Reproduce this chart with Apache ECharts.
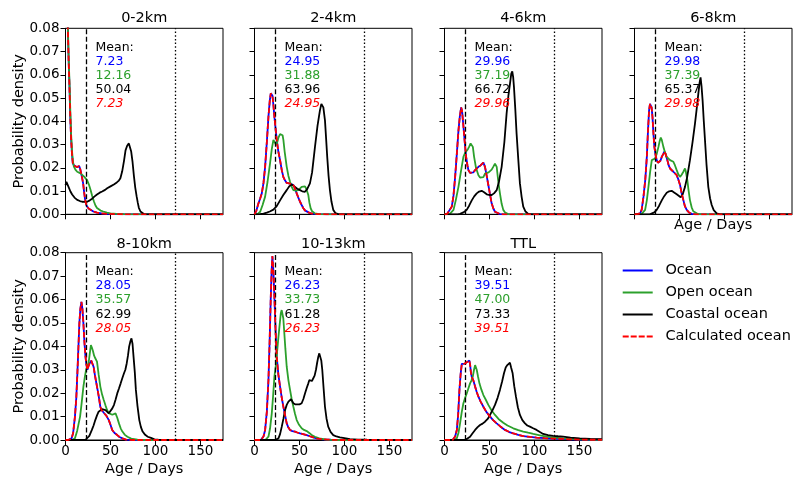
<!DOCTYPE html>
<html><head><meta charset="utf-8">
<script src="https://cdn.jsdelivr.net/npm/echarts@6/dist/echarts.min.js"></script>
<style>html,body{margin:0;padding:0;background:#fff}#c{width:797px;height:479px}</style>
</head><body><div id="c"></div>
<script>
// ---------------- DATA ----------------
const panelTitles = ['0-2km', '2-4km', '4-6km', '6-8km', '8-10km', '10-13km', 'TTL'];
const seriesNames = ['Ocean', 'Open ocean', 'Coastal ocean', 'Calculated ocean'];
const meanOcean   = [7.23, 24.95, 29.96, 29.98, 28.05, 26.23, 39.51];
const meanOpen    = [12.16, 31.88, 37.19, 37.39, 35.57, 33.73, 47.00];
const meanCoastal = [50.04, 63.96, 66.72, 65.37, 62.99, 61.28, 73.33];
const meanCalc    = [7.23, 24.95, 29.96, 29.98, 28.05, 26.23, 39.51];
const xTicks = [0, 50, 100, 150];
const dashedDay = 23.5;
const dottedDay = 122;

// 0-2km
const ocean_0_2 = [[0,0.16],[1,0.13],[2,0.1],[2.6,0.08],[3.5,0.066],[4.4,0.055],[5.3,0.042],[6.3,0.032],[7.2,0.026],[8.1,0.022],[9.5,0.021],[10.7,0.0205],[12.5,0.0203],[14.4,0.0205],[15.2,0.0207],[16.2,0.0197],[17,0.0183],[18.3,0.016],[19.6,0.0133],[20.7,0.0095],[21.8,0.0063],[23,0.0042],[24,0.0033],[26,0.0024],[27.8,0.0018],[31,0.0012],[35,0.0007],[40,0.0004],[46,0.0002],[55,0.0001],[65,0],[175,0]];
const open_0_2 = [[0,0.16],[1,0.13],[2,0.1],[2.7,0.08],[3.6,0.066],[4.5,0.056],[5.4,0.044],[6.3,0.034],[7.3,0.027],[8.2,0.023],[9.3,0.0205],[11,0.0192],[13,0.0183],[15,0.0179],[16.7,0.0176],[18.5,0.017],[20.4,0.0163],[22.2,0.0155],[24,0.0147],[26,0.0128],[27.8,0.0106],[29.6,0.008],[31.5,0.0056],[33.3,0.0038],[35,0.0027],[37,0.002],[39,0.0016],[42,0.0012],[46,0.0007],[50,0.0004],[57,0.0002],[65,0.0001],[75,0],[175,0]];
const coast_0_2 = [[0,0.0125],[1,0.014],[2,0.0135],[3.7,0.0115],[5.5,0.0098],[7.4,0.0085],[10,0.0072],[13,0.0062],[16,0.0057],[18.5,0.0054],[21,0.0053],[24,0.0054],[27,0.006],[29.6,0.0067],[32,0.0076],[35,0.0085],[38,0.0093],[40.7,0.0098],[44,0.0105],[46.3,0.0112],[50,0.012],[53.7,0.0128],[57,0.0137],[59.3,0.0145],[61,0.0155],[63,0.0185],[65,0.023],[66.7,0.0275],[68.5,0.0295],[70.4,0.0305],[71.5,0.0298],[73,0.027],[74.5,0.0225],[76,0.0165],[77.5,0.0115],[79,0.0078],[80.3,0.005],[81.5,0.0028],[83.3,0.0012],[85,0.0005],[87,0.0001],[90,0],[175,0]];
// 2-4km
const ocean_2_4 = [[0,0],[2,0.0015],[4.4,0.0047],[6.3,0.0068],[8.1,0.009],[10,0.0135],[11.8,0.0204],[13.7,0.031],[15.5,0.042],[17,0.049],[18.1,0.052],[19,0.0522],[20,0.051],[21,0.047],[22.1,0.042],[23.4,0.037],[24.7,0.032],[26.5,0.027],[28.4,0.0233],[30.3,0.019],[32.1,0.016],[34,0.0145],[35.8,0.0135],[37.7,0.0133],[39.5,0.0132],[41.3,0.0128],[43.2,0.0126],[45,0.011],[46.9,0.009],[48.7,0.0072],[50.6,0.0054],[52.4,0.004],[54.3,0.0026],[56,0.0017],[58,0.0011],[61,0.0006],[64,0.0003],[70,0.0001],[80,0],[175,0]];
const open_2_4 = [[0,0],[4,0.0003],[6.3,0.0011],[9,0.004],[11.8,0.0076],[14.5,0.014],[17.3,0.022],[19.2,0.028],[21,0.032],[22.5,0.031],[24,0.0297],[25.3,0.031],[26.6,0.033],[28.4,0.0345],[30.3,0.0348],[31.2,0.034],[32.1,0.032],[33.5,0.027],[35.8,0.0204],[37.7,0.0165],[39.5,0.014],[41.3,0.0118],[43.2,0.0104],[46,0.0102],[48.7,0.0104],[50.6,0.011],[52.4,0.0118],[54.3,0.0121],[56.1,0.012],[57.5,0.011],[59.8,0.0083],[61,0.005],[62.4,0.0026],[64,0.0013],[67.2,0.0004],[72,0.0001],[80,0],[175,0]];
const coast_2_4 = [[0,0],[6,0.0001],[10,0.0003],[13.7,0.0007],[17,0.0012],[21,0.002],[24.7,0.0035],[28.4,0.006],[32,0.0083],[35.8,0.0104],[38.5,0.012],[41.3,0.0128],[43,0.0125],[45,0.0118],[47.5,0.011],[50.6,0.0104],[53,0.0099],[56.1,0.0097],[58.5,0.0108],[61.6,0.0133],[64,0.018],[67.2,0.029],[70,0.038],[72.7,0.0447],[74.3,0.0475],[75.3,0.048],[76.5,0.046],[78.3,0.0404],[79.5,0.033],[80.8,0.0247],[82.3,0.0165],[83.8,0.0104],[85.5,0.0055],[87.5,0.0019],[90,0.0005],[93,0.0001],[96,0],[175,0]];
// 4-6km
const ocean_4_6 = [[0,0],[3,0.0002],[5,0.0008],[8.1,0.0033],[10,0.008],[11.8,0.016],[13.7,0.026],[15.5,0.036],[17,0.042],[18.5,0.046],[19.5,0.0445],[21,0.038],[22.5,0.031],[24,0.0247],[25.5,0.021],[26.6,0.019],[28.4,0.0178],[30.3,0.0175],[32,0.018],[34,0.019],[36,0.0198],[37.7,0.0204],[40,0.021],[42,0.0215],[43.2,0.0222],[44,0.022],[45,0.0204],[46.9,0.0165],[48.7,0.0126],[50.6,0.0085],[52.4,0.0047],[54.3,0.0025],[56.1,0.0011],[58,0.0005],[61.6,0.0001],[65,0],[175,0]];
const open_4_6 = [[0,0],[6,0.0002],[8,0.0008],[10,0.0019],[12.5,0.006],[15.5,0.0118],[18.5,0.019],[21,0.0247],[23,0.0265],[24.7,0.027],[26,0.028],[27.3,0.029],[29,0.0305],[30.3,0.031],[31.5,0.029],[32.9,0.0247],[35,0.02],[37.7,0.0168],[39.5,0.0158],[41.3,0.0154],[43.2,0.016],[45,0.0175],[47,0.0178],[49,0.018],[50.6,0.0183],[52.4,0.0192],[54.3,0.0205],[56.1,0.0218],[57,0.0215],[58,0.0204],[59.8,0.014],[61.6,0.009],[63.5,0.0045],[65.3,0.0019],[67.5,0.0007],[70.9,0.0001],[75,0],[175,0]];
const coast_4_6 = [[0,0],[15,0],[17.3,0.0002],[21,0.0008],[24.7,0.0019],[27.5,0.0038],[30.3,0.006],[33,0.0077],[35.8,0.009],[38.5,0.0098],[41.3,0.0101],[44,0.0095],[46.9,0.0086],[49.5,0.0083],[52.4,0.0083],[55,0.009],[58,0.0104],[60.5,0.014],[63.5,0.0204],[66.5,0.031],[69,0.0433],[71,0.051],[72.7,0.056],[74.2,0.0605],[75.3,0.0615],[76.3,0.059],[77.2,0.0547],[78.7,0.045],[80.1,0.0347],[82,0.0235],[83.8,0.0133],[85.7,0.0075],[87.5,0.0033],[90,0.0012],[93,0.0002],[97,0],[175,0]];
// 6-8km
const ocean_6_8 = [[0,0],[4,0.0002],[6.3,0.0004],[8,0.002],[10,0.0076],[12,0.015],[13.7,0.0247],[15,0.036],[16.2,0.0447],[17.2,0.0475],[18.1,0.048],[19,0.046],[20,0.0418],[21,0.035],[22.1,0.029],[23.4,0.0255],[24.7,0.0233],[26,0.0222],[27.3,0.0218],[28.8,0.023],[30.3,0.0247],[32,0.026],[33.3,0.027],[34.5,0.026],[36.5,0.0233],[38,0.021],[39.5,0.0197],[41.3,0.019],[43.2,0.0183],[45,0.0175],[46.9,0.0168],[48.7,0.015],[50.6,0.0126],[52.4,0.009],[54.3,0.0061],[56,0.0035],[58,0.0019],[60.5,0.0008],[63.5,0.0002],[68,0],[175,0]];
const open_6_8 = [[0,0],[8,0.0002],[10,0.0008],[11.8,0.0019],[13.7,0.006],[15.5,0.0118],[17.3,0.018],[19.2,0.0233],[21,0.024],[22.9,0.024],[24.7,0.026],[26.6,0.029],[28,0.0315],[29.2,0.033],[30.3,0.032],[32.1,0.029],[34,0.0265],[35.8,0.0247],[37.7,0.024],[39.5,0.0233],[41.3,0.0228],[43.2,0.0226],[45,0.021],[46.9,0.019],[48.7,0.0172],[50.6,0.0161],[52.4,0.017],[54.3,0.0183],[56.1,0.0197],[57,0.0185],[58.7,0.0147],[60,0.0105],[61.6,0.0061],[63.5,0.003],[65.3,0.0013],[67.2,0.0006],[70,0.0002],[75,0],[175,0]];
const coast_6_8 = [[0,0],[17,0],[19.2,0.0002],[22,0.0008],[24.7,0.0019],[27.5,0.0038],[30.3,0.006],[33,0.0078],[35.8,0.0093],[38.5,0.0099],[41.3,0.0101],[44,0.0094],[46.9,0.0086],[49,0.0078],[51.3,0.0073],[53.5,0.0085],[56.1,0.0118],[58.5,0.016],[61.6,0.0233],[64.5,0.031],[67.2,0.039],[69,0.045],[70.9,0.0518],[72.3,0.0565],[73.4,0.0589],[74.5,0.055],[75.7,0.0488],[77,0.04],[78.3,0.032],[80,0.0215],[82,0.0118],[84,0.0068],[85.8,0.004],[88,0.0018],[91.3,0.0004],[95,0],[175,0]];
// 8-10km
const ocean_8_10 = [[0,0],[3,0],[5,0.0003],[6.8,0.0007],[8.5,0.003],[10.5,0.01],[12,0.018],[13.2,0.0285],[14.3,0.039],[15.4,0.0498],[16.5,0.056],[17.7,0.059],[18.8,0.056],[19.9,0.0498],[21,0.042],[22.2,0.0356],[23.3,0.032],[24.4,0.03],[25.5,0.0315],[26.7,0.0327],[28.6,0.0339],[29.5,0.0335],[31.2,0.0313],[33,0.027],[35,0.0228],[37,0.0185],[38.7,0.0142],[40,0.0128],[41.7,0.0121],[43.5,0.0112],[45.5,0.0103],[48.1,0.0085],[50,0.0065],[51.9,0.0043],[54.5,0.003],[57.5,0.0021],[60,0.0013],[63.2,0.0007],[67,0.0002],[75,0],[175,0]];
const open_8_10 = [[0,0],[8,0.0001],[10.5,0.0007],[13,0.004],[16.2,0.01],[18,0.016],[19.9,0.0228],[21.5,0.027],[22.9,0.03],[24.3,0.0315],[25.6,0.0327],[27,0.037],[28.2,0.0405],[29.3,0.0395],[30.5,0.038],[31.8,0.036],[33.1,0.0349],[35,0.0335],[36.8,0.028],[38.7,0.0228],[40.6,0.0195],[42.5,0.0171],[44.4,0.0148],[46.2,0.0128],[48,0.0115],[50,0.0107],[52,0.0108],[54,0.0112],[55.6,0.0114],[57.5,0.0095],[59.4,0.0071],[61.3,0.005],[63.2,0.0036],[66,0.0022],[68.8,0.0014],[73,0.0006],[80,0.0002],[90,0],[175,0]];
const coast_8_10 = [[0,0],[22,0],[23.7,0.0002],[26.5,0.0018],[29.3,0.0043],[31.2,0.0062],[33.1,0.0085],[35,0.0105],[36.8,0.0121],[38.7,0.0128],[40.6,0.0132],[42.5,0.0131],[44.4,0.0128],[46.3,0.0121],[48.1,0.0114],[50,0.012],[52,0.0135],[53.8,0.0149],[55.6,0.0172],[57.5,0.0199],[59.4,0.022],[61.3,0.0242],[63.2,0.0265],[65,0.0285],[66.5,0.03],[68,0.0327],[69.4,0.036],[70.7,0.0399],[72,0.042],[73.3,0.0434],[74.5,0.041],[75.6,0.0356],[77,0.029],[78.2,0.0214],[80,0.0145],[82,0.0085],[83.8,0.0055],[85.7,0.0036],[88.5,0.0022],[91.4,0.0014],[95,0.0009],[98.9,0.0003],[103,0.0001],[110,0],[175,0]];
// 10-13km
const ocean_10_13 = [[0,0],[7,0],[8.1,0.0002],[10,0.0015],[11.8,0.0043],[13.7,0.012],[15.5,0.0256],[16.8,0.042],[18.1,0.0612],[19,0.072],[19.9,0.0786],[21,0.072],[22.1,0.0612],[23.4,0.047],[24.7,0.0356],[26.5,0.028],[28.4,0.0228],[30.3,0.018],[32.1,0.0142],[34,0.0105],[35.8,0.0071],[37.7,0.0053],[39.5,0.0043],[42,0.0038],[45,0.0036],[47.5,0.0032],[50.6,0.0028],[54,0.0025],[58,0.0021],[61.5,0.0016],[65.3,0.0011],[70,0.0006],[76,0.0003],[85,0.0001],[95,0],[175,0]];
const open_10_13 = [[0,0],[12,0],[13.5,0.0002],[15.5,0.0014],[17.3,0.005],[19.2,0.0114],[20.7,0.019],[22.1,0.027],[24,0.0327],[25.3,0.0385],[26.6,0.044],[28,0.0495],[29.2,0.054],[30.2,0.0555],[31,0.0562],[32,0.052],[32.9,0.047],[34.3,0.039],[35.8,0.0313],[37.7,0.0255],[39.5,0.0214],[41.3,0.0175],[43.2,0.0142],[45,0.0112],[46.9,0.0085],[49.5,0.0065],[52.4,0.005],[55,0.0043],[58,0.0038],[60,0.0033],[61.6,0.0028],[64,0.002],[67.2,0.0014],[72,0.0007],[80,0.0002],[90,0],[175,0]];
const coast_10_13 = [[0,0],[22.9,0],[24.5,0.0002],[26.6,0.0007],[28.4,0.0025],[30.3,0.0057],[32.1,0.009],[34,0.0128],[35.8,0.015],[37.7,0.0164],[39.2,0.0172],[40.6,0.0174],[41.9,0.0168],[43.2,0.0157],[45.5,0.0152],[47.6,0.015],[50,0.0152],[52.4,0.0157],[54.3,0.0175],[56.1,0.0199],[58,0.0222],[59.8,0.0242],[61,0.0256],[62.4,0.0258],[63.8,0.0252],[65.3,0.0256],[66.8,0.0275],[68.3,0.03],[69.6,0.033],[70.9,0.0356],[72,0.037],[73.1,0.0373],[74.2,0.034],[75.3,0.03],[76.8,0.022],[78.3,0.0142],[80,0.0092],[81.9,0.0057],[84.5,0.0035],[87.5,0.0021],[91,0.0015],[94.9,0.0011],[100,0.0008],[106,0.0004],[115,0.0002],[125,0.0001],[140,0],[175,0]];
// TTL
const ocean_ttl = [[0,0],[9,0],[10,0.0003],[11.8,0.0015],[13.7,0.0043],[15.2,0.011],[16.6,0.0214],[17.9,0.028],[19.2,0.0325],[20,0.0327],[21,0.0325],[22.3,0.0326],[23.6,0.0327],[24.7,0.0332],[25.8,0.0335],[26.8,0.034],[27.7,0.0339],[28.5,0.032],[29.3,0.029],[30.3,0.027],[32,0.0255],[34,0.0228],[35.8,0.0205],[37.7,0.0185],[40,0.0165],[43.2,0.0142],[46.5,0.012],[50.6,0.01],[54,0.0085],[58,0.0071],[62,0.0058],[67.2,0.0043],[72,0.0034],[76.4,0.0028],[82,0.0022],[87.5,0.0017],[95,0.0013],[102.3,0.001],[111,0.0008],[120.7,0.0006],[130,0.0005],[139.1,0.0003],[150,0.0002],[160,0.0001],[175,0.0001]];
const open_ttl = [[0,0],[11,0],[12,0.0002],[13.7,0.0007],[15.5,0.003],[17.3,0.0071],[19.2,0.012],[21,0.0157],[22.9,0.018],[24.7,0.0199],[26.5,0.022],[28.4,0.0242],[30,0.0255],[31.4,0.027],[32.8,0.03],[34,0.032],[34.8,0.0322],[35.8,0.03],[37.3,0.027],[38.8,0.0242],[41,0.0215],[43.2,0.0192],[45.9,0.0172],[48.7,0.015],[52,0.0128],[56.1,0.0107],[60,0.009],[65.3,0.0074],[70,0.0062],[76.4,0.005],[82,0.0042],[87.5,0.0036],[93,0.0031],[98.6,0.0026],[106,0.002],[113.4,0.0014],[122,0.001],[131.8,0.0007],[140,0.0005],[150.2,0.0003],[162,0.0002],[175,0.0001]];
const coast_ttl = [[0,0],[22,0],[23.5,0.0002],[25.5,0.0006],[28.4,0.0014],[31,0.0028],[34,0.0043],[36.8,0.0055],[39.5,0.0064],[42.3,0.007],[45,0.0078],[48,0.009],[50.6,0.0107],[53.4,0.0128],[56.1,0.015],[59,0.018],[61.6,0.0214],[64,0.025],[66.1,0.0285],[68,0.031],[69.8,0.032],[71.5,0.0328],[72.7,0.033],[74,0.031],[75.7,0.0285],[77.5,0.023],[79.4,0.0185],[81.5,0.014],[83.8,0.0107],[86.5,0.0085],[89.4,0.0071],[92,0.0062],[94.9,0.0057],[98.5,0.005],[102.3,0.0043],[106,0.0034],[109.6,0.0026],[115,0.0021],[120.7,0.0018],[126,0.0016],[131.8,0.0014],[140,0.001],[150.2,0.0007],[162,0.0005],[175,0.0004]];

const oceanData = [ocean_0_2, ocean_2_4, ocean_4_6, ocean_6_8, ocean_8_10, ocean_10_13, ocean_ttl];
const openData  = [open_0_2, open_2_4, open_4_6, open_6_8, open_8_10, open_10_13, open_ttl];
const coastData = [coast_0_2, coast_2_4, coast_4_6, coast_6_8, coast_8_10, coast_10_13, coast_ttl];

// ---------------- LAYOUT / STYLE ----------------
const FONT = 'DejaVu Sans';
const BLUE = '#0000ff', GREEN = '#2ca02c', BLACK = '#000000', RED = '#ff0000';
const colLeft = [65.5, 254.5, 444.5, 634.5];
const rowTop = [28.3, 252.7];
const rowH = [186, 187.3];
const gridW = 157.5;
const LW = 1.8;
const ICON_SOLID = 'path://M0,0h30v2h-30z';
const ICON_DASH = 'path://M0,0h6v2h-6z M8,0h6v2h-6z M16,0h6v2h-6z M24,0h6v2h-6z';
const legendColors = [BLUE, GREEN, BLACK, RED];

const option = {
  animation: false,
  backgroundColor: '#fff',
  textStyle: { fontFamily: FONT },
  grid: [], xAxis: [], yAxis: [], series: [], title: [],
  legend: {
    data: seriesNames.map((n, k) => ({ name: n, icon: k === 3 ? ICON_DASH : ICON_SOLID, itemStyle: { color: legendColors[k] } })),
    orient: 'vertical', left: 622.7, top: 263, padding: 0,
    itemWidth: 31.5, itemHeight: 2, itemGap: 7, selectedMode: false,
    textStyle: { fontSize: 14.5, color: '#000', fontFamily: FONT, padding: [0, 0, 0, 7] }
  }
};

for (let i = 0; i < panelTitles.length; i++) {
  const r = i < 4 ? 0 : 1;
  const c = i < 4 ? i : i - 4;
  const left = colLeft[c], top = rowTop[r];
  option.grid.push({ left, top, width: gridW, height: rowH[r], show: true, borderColor: '#000', borderWidth: 1, backgroundColor: 'transparent', outerBoundsMode: 'none' });
  const showXName = r === 1 || i === 3;
  option.xAxis.push({
    type: 'value', gridIndex: i, min: 0, max: 175, interval: 50,
    axisLine: { show: true, onZero: false, lineStyle: { color: '#000', width: 1 } },
    axisTick: { show: true, length: 5, customValues: xTicks, lineStyle: { color: '#000', width: 1 } },
    axisLabel: { show: r === 1, customValues: xTicks, color: '#000', fontSize: 13.5, fontFamily: FONT, margin: 4 },
    splitLine: { show: false },
    name: showXName ? 'Age / Days' : '', nameLocation: 'middle', nameGap: r === 1 ? 22 : 3.5,
    nameMoveOverlap: false,
    nameTextStyle: { fontSize: 14.5, color: '#000', fontFamily: FONT }
  });
  option.yAxis.push({
    type: 'value', gridIndex: i, min: 0, max: 0.08, interval: 0.01,
    axisLine: { show: true, onZero: false, lineStyle: { color: '#000', width: 1 } },
    axisTick: { show: true, length: 5, lineStyle: { color: '#000', width: 1 } },
    axisLabel: { show: c === 0, color: '#000', fontSize: 13.5, fontFamily: FONT, margin: 6, formatter: v => v.toFixed(2) },
    splitLine: { show: false },
    name: c === 0 ? 'Probability density' : '', nameLocation: 'middle', nameGap: 39,
    nameMoveOverlap: false,
    nameTextStyle: { fontSize: 14.5, color: '#000', fontFamily: FONT }
  });
  const base = { type: 'line', xAxisIndex: i, yAxisIndex: i, symbol: 'none', showSymbol: false, smooth: false, clip: true };
  option.series.push(Object.assign({}, base, { name: seriesNames[0], data: oceanData[i], lineStyle: { color: BLUE, width: LW }, itemStyle: { color: BLUE }, z: 2 }));
  option.series.push(Object.assign({}, base, { name: seriesNames[1], data: openData[i], lineStyle: { color: GREEN, width: LW }, itemStyle: { color: GREEN }, z: 3 }));
  option.series.push(Object.assign({}, base, { name: seriesNames[2], data: coastData[i], lineStyle: { color: BLACK, width: LW }, itemStyle: { color: BLACK }, z: 4,
    markLine: { silent: true, symbol: ['none', 'none'], label: { show: false }, animation: false,
      data: [
        { xAxis: dashedDay, lineStyle: { color: '#000', width: 1.3, type: [5, 2.5] } },
        { xAxis: dottedDay, lineStyle: { color: '#000', width: 1.3, type: [1.5, 2.2] } }
      ] } }));
  option.series.push(Object.assign({}, base, { name: seriesNames[3], data: oceanData[i], lineStyle: { color: RED, width: LW, type: [5.5, 2.4] }, itemStyle: { color: RED }, z: 5 }));

  option.title.push({
    text: panelTitles[i], left: left + gridW / 2, top: r === 0 ? 10.5 : 236.5, textAlign: 'center', padding: 0,
    textStyle: { fontSize: 14.5, fontWeight: 'normal', color: '#000', fontFamily: FONT }
  });
  const rs = { fontSize: 12.5, lineHeight: 14.2, fontFamily: FONT };
  option.title.push({
    text: '{k|Mean:}\n{b|' + meanOcean[i].toFixed(2) + '}\n{g|' + meanOpen[i].toFixed(2) + '}\n{k|' + meanCoastal[i].toFixed(2) + '}\n{r|' + meanCalc[i].toFixed(2) + '}',
    left: left + 30, top: top + 12, padding: 0,
    textStyle: { fontSize: 12.5, lineHeight: 14.2, fontFamily: FONT, fontWeight: 'normal',
      rich: {
        k: Object.assign({ color: '#000' }, rs),
        b: Object.assign({ color: BLUE }, rs),
        g: Object.assign({ color: GREEN }, rs),
        r: Object.assign({ color: RED, fontStyle: 'italic' }, rs)
      } }
  });
}

const chart = echarts.init(document.getElementById('c'), null, { renderer: 'canvas' });
chart.setOption(option);
</script>
</body></html>
